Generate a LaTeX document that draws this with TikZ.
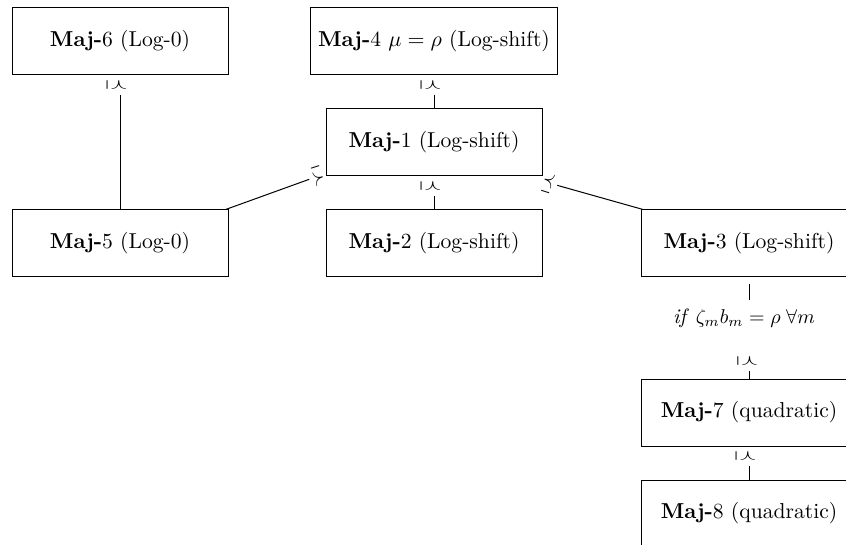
\documentclass[tikz,border=0pt]{standalone}
\usepackage{amssymb}
\usepackage{graphicx}
\usetikzlibrary{calc}
\begin{document}
\begin{tikzpicture}[x=0.5pt,y=-0.5pt,
  box/.style={draw, line width=0.5pt, minimum width=108pt, minimum height=33.5pt, inner sep=4pt, font=\fontsize{10.8}{13}\selectfont},
  sym/.style={inner sep=1.8pt, font=\fontsize{10.8}{13}\selectfont},
  conn/.style={line width=0.5pt}]
\useasboundingbox (0,0) rectangle (846,545);
\clip (0,0) rectangle (846,545);
\newcommand{\prq}{\scalebox{0.65}[1.15]{$\preceq$}}
% boxes
\node[box] (maj6) at (120,41.5) {\textbf{Maj-}6 (Log-0)};
\node[box, minimum width=119pt] (maj4) at (434,41.5) {\textbf{Maj-}4 $\mu = \rho$ (Log-shift)};
\node[box] (maj1) at (434,142.5) {\textbf{Maj-}1 (Log-shift)};
\node[box] (maj5) at (120,243.5) {\textbf{Maj-}5 (Log-0)};
\node[box] (maj2) at (434,243.5) {\textbf{Maj-}2 (Log-shift)};
\node[box] (maj3) at (749,243.5) {\textbf{Maj-}3 (Log-shift)};
\node[box] (maj7) at (749,412.5) {\textbf{Maj-}7 (quadratic)};
\node[box] (maj8) at (749,513.5) {\textbf{Maj-}8 (quadratic)};
% vertical relations
\node[sym, rotate=-90, anchor=west] (s6) at ($(maj6.south)+(180:1.75pt)$) {\prq};
\draw[conn] (s6.east -| maj6.south) -- (maj5.north -| maj6.south);
\node[sym, rotate=-90, anchor=west] (s4) at ($(maj4.south)+(180:1.75pt)$) {\prq};
\draw[conn] (s4.east -| maj4.south) -- (maj1.north -| maj4.south);
\node[sym, rotate=-90, anchor=west] (s1) at ($(maj1.south)+(180:1.75pt)$) {\prq};
\draw[conn] (s1.east -| maj1.south) -- (maj2.north -| maj1.south);
\node[sym, rotate=-90, anchor=west] (s7) at ($(maj7.south)+(180:1.75pt)$) {\prq};
\draw[conn] (s7.east -| maj7.south) -- (maj8.north -| maj7.south);
% slanted relations
\path (maj1) -- (maj5) coordinate[pos=0] (b15) coordinate[pos=1] (b51);
\node[sym, rotate=-162.17, anchor=west] (s15) at ($(b15)+(107.83:1.75pt)$) {\prq};
\draw[conn] (s15) -- (b51);
\path (maj1) -- (maj3) coordinate[pos=0] (b13) coordinate[pos=1] (b31);
\node[sym, rotate=-17.83, anchor=west] (s13) at ($(b13)+(252.17:1.75pt)$) {\prq};
\draw[conn] (s13) -- (b31);
% conditional relation
\coordinate (c3) at ([yshift=-3.5pt]maj3.south);
\node[inner sep=0pt, font=\fontsize{10.4}{13}\selectfont] (lab) at (744,318) {\textit{if} $\zeta_m b_m = \rho\;\forall m$};
\coordinate (c3b) at (749,300);
\draw[conn] (c3) -- (c3b);
\node[sym, rotate=-90] (s37) at (747.25,361) {\prq};
\draw[conn] (s37.east -| maj7.north) -- (maj7.north);
\end{tikzpicture}
\end{document}
